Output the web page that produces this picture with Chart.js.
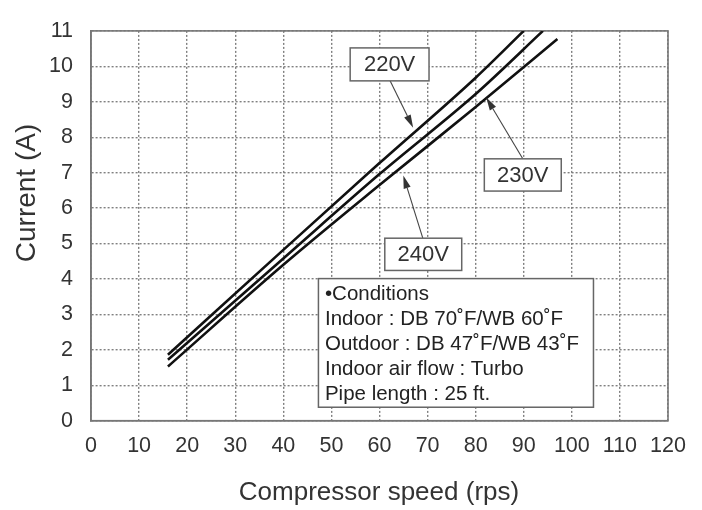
<!DOCTYPE html>
<html>
<head>
<meta charset="utf-8">
<script src="https://cdn.jsdelivr.net/npm/chart.js@4.4.1/dist/chart.umd.min.js"></script>
<style>
html,body{margin:0;padding:0;background:#fff;}
#wrap{width:702px;height:510px;position:relative;}
</style>
</head>
<body>
<div id="wrap"><canvas id="c" width="702" height="510"></canvas></div>
<script>
// ---- data ----
const seriesNames = ['220V', '230V', '240V'];
const speed220 = [16, 40, 60, 80, 90];
const current220 = [1.86, 4.82, 7.27, 9.68, 11];
const speed230 = [16, 40, 60, 80, 94];
const current230 = [1.72, 4.58, 6.96, 9.22, 11];
const speed240 = [16, 40, 60, 80, 97];
const current240 = [1.53, 4.4, 6.65, 8.85, 10.77];
const xTickLabels = ['0','10','20','30','40','50','60','70','80','90','100','110','120'];
const yTickLabels = ['0','1','2','3','4','5','6','7','8','9','10','11'];
const xTitle = 'Compressor speed (rps)';
const yTitle = 'Current (A)';
const conditionLines = ['•Conditions', 'Indoor : DB 70˚F/WB 60˚F', 'Outdoor : DB 47˚F/WB 43˚F', 'Indoor air flow : Turbo', 'Pipe length : 25 ft.'];

function pts(xs, ys){ return xs.map((x,i)=>({x:x, y:ys[i]})); }

const FONT = '"Liberation Sans", Arial, sans-serif';

const frame = {
  id: 'frame',
  beforeDatasetsDraw(chart){
    const a = chart.chartArea, ctx = chart.ctx;
    ctx.save();
    ctx.strokeStyle = '#777'; ctx.lineWidth = 1.6; ctx.setLineDash([]);
    ctx.strokeRect(a.left, a.top, a.right - a.left, a.bottom - a.top);
    ctx.restore();
  }
};

const annot = {
  id: 'annot',
  afterDatasetsDraw(chart){
    const ctx = chart.ctx, sx = chart.scales.x, sy = chart.scales.y;
    const P = (x,y)=>[sx.getPixelForValue(x), sy.getPixelForValue(y)];
    ctx.save();
    ctx.setLineDash([]);
    function arrow(x0,y0,x1,y1){
      const a = P(x0,y0), b = P(x1,y1);
      ctx.strokeStyle = '#444'; ctx.fillStyle = '#333'; ctx.lineWidth = 1.1;
      const ang = Math.atan2(b[1]-a[1], b[0]-a[0]);
      const L = 13, W = 3.6;
      const bx = b[0] - L*Math.cos(ang), by = b[1] - L*Math.sin(ang);
      ctx.beginPath(); ctx.moveTo(a[0],a[1]); ctx.lineTo(bx,by); ctx.stroke();
      ctx.beginPath();
      ctx.moveTo(b[0],b[1]);
      ctx.lineTo(bx + W*Math.sin(ang), by - W*Math.cos(ang));
      ctx.lineTo(bx - W*Math.sin(ang), by + W*Math.cos(ang));
      ctx.closePath(); ctx.fill();
    }
    function box(x0,y0,x1,y1){
      const a = P(x0,y0), b = P(x1,y1);
      ctx.fillStyle = '#fff';
      ctx.fillRect(a[0], a[1], b[0]-a[0], b[1]-a[1]);
      ctx.strokeStyle = '#666'; ctx.lineWidth = 1.5;
      ctx.strokeRect(a[0], a[1], b[0]-a[0], b[1]-a[1]);
      return [a,b];
    }
    function label(text, x0,y0,x1,y1){
      const r = box(x0,y0,x1,y1);
      ctx.fillStyle = '#333'; ctx.font = '22px ' + FONT;
      ctx.textAlign = 'center'; ctx.textBaseline = 'middle';
      ctx.fillText(text, (r[0][0]+r[1][0])/2, (r[0][1]+r[1][1])/2 + 1);
    }
    arrow(62.2, 9.59, 67.0, 8.27);
    arrow(89.8, 7.39, 82.2, 9.12);
    arrow(69.0, 5.15, 64.95, 6.92);
    label(seriesNames[0], 53.9, 10.52, 70.3, 9.59);
    label(seriesNames[1], 81.8, 7.39, 97.8, 6.48);
    label(seriesNames[2], 61.1, 5.15, 77.1, 4.24);
    // conditions box
    const r = box(47.3, 4.01, 104.5, 0.38);
    ctx.fillStyle = '#222'; ctx.font = '20.5px ' + FONT;
    ctx.textAlign = 'left'; ctx.textBaseline = 'middle';
    conditionLines.forEach((t,i)=>{ ctx.fillText(t, r[0][0] + 6.5, r[0][1] + 15.5 + i*25); });
    // axis titles
    ctx.fillStyle = '#333';
    ctx.font = '26px ' + FONT;
    ctx.textAlign = 'center'; ctx.textBaseline = 'middle';
    ctx.fillText(xTitle, 379, 493);
    ctx.save();
    ctx.translate(27, 193);
    ctx.rotate(-Math.PI/2);
    ctx.font = '28px ' + FONT;
    ctx.fillText(yTitle, 0, 0);
    ctx.restore();
    ctx.restore();
  }
};

const lineStyle = {borderColor:'#111', borderWidth:2.6, pointRadius:0, fill:false, cubicInterpolationMode:'monotone'};

new Chart(document.getElementById('c'), {
  type: 'line',
  data: {
    datasets: [
      Object.assign({label: seriesNames[0], data: pts(speed220, current220)}, lineStyle),
      Object.assign({label: seriesNames[1], data: pts(speed230, current230)}, lineStyle),
      Object.assign({label: seriesNames[2], data: pts(speed240, current240)}, lineStyle)
    ]
  },
  options: {
    responsive: false,
    animation: false,
    devicePixelRatio: 1,
    layout: {padding: {left: 0, right: 34, top: 16.7, bottom: 0}},
    plugins: {legend: {display: false}, tooltip: {enabled: false}},
    scales: {
      x: {
        type: 'linear', min: 0, max: 120,
        afterFit: s => { s.height = 89.3; },
        ticks: {stepSize: 10, padding: 12, color: '#333', font: {family: FONT, size: 21.5},
          callback: (v) => xTickLabels[Math.round(v/10)] },
        grid: {color: '#808080', lineWidth: 1.4, drawTicks: false},
        border: {display: true, color: '#777', width: 1.6, dash: [2, 2]}
      },
      y: {
        type: 'linear', min: 0, max: 11,
        afterFit: s => { s.width = 91; },
        ticks: {stepSize: 1, padding: 18, color: '#333', font: {family: FONT, size: 21.5},
          callback: (v) => yTickLabels[Math.round(v)] },
        grid: {color: '#808080', lineWidth: 1.4, drawTicks: false},
        border: {display: true, color: '#777', width: 1.6, dash: [2, 2]}
      }
    }
  },
  plugins: [frame, annot]
});
</script>
</body>
</html>
